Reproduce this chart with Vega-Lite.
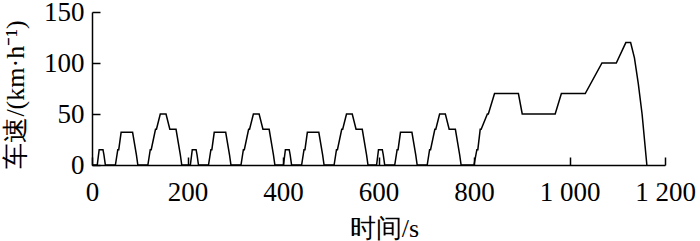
{
  "$schema": "https://vega.github.io/schema/vega-lite/v6.json",
  "width": 573,
  "height": 153,
  "autosize": {"type": "none"},
  "padding": {"left": 92, "top": 12, "right": 35, "bottom": 76},
  "background": "white",
  "config": {
    "view": {"stroke": null},
    "font": "'Liberation Serif', 'Times New Roman', serif",
    "axis": {
      "grid": false,
      "domainColor": "black",
      "domainWidth": 1.5,
      "tickColor": "black",
      "tickWidth": 1.5,
      "labelColor": "black",
      "titleColor": "black",
      "labelFont": "'Liberation Serif', 'Times New Roman', serif",
      "titleFont": "'Liberation Serif', 'Times New Roman', serif",
      "labelFontSize": 27,
      "titleFontSize": 26,
      "titleFontWeight": "normal",
      "labelFlush": false,
      "labelOverlap": false
    }
  },
  "data": {
    "values": [
      {"t": 0, "v": 0}, {"t": 11, "v": 0}, {"t": 15, "v": 15}, {"t": 23, "v": 15}, {"t": 25, "v": 10}, {"t": 28, "v": 0},
      {"t": 49, "v": 0}, {"t": 54, "v": 15}, {"t": 56, "v": 15}, {"t": 61, "v": 32}, {"t": 85, "v": 32}, {"t": 93, "v": 10}, {"t": 96, "v": 0},
      {"t": 117, "v": 0}, {"t": 122, "v": 15}, {"t": 124, "v": 15}, {"t": 133, "v": 35}, {"t": 135, "v": 35}, {"t": 143, "v": 50}, {"t": 155, "v": 50},
      {"t": 163, "v": 35}, {"t": 176, "v": 35}, {"t": 185, "v": 10}, {"t": 188, "v": 0}, {"t": 195, "v": 0},
      {"t": 206, "v": 0}, {"t": 210, "v": 15}, {"t": 218, "v": 15}, {"t": 220, "v": 10}, {"t": 223, "v": 0},
      {"t": 244, "v": 0}, {"t": 249, "v": 15}, {"t": 251, "v": 15}, {"t": 256, "v": 32}, {"t": 280, "v": 32}, {"t": 288, "v": 10}, {"t": 291, "v": 0},
      {"t": 312, "v": 0}, {"t": 317, "v": 15}, {"t": 319, "v": 15}, {"t": 328, "v": 35}, {"t": 330, "v": 35}, {"t": 338, "v": 50}, {"t": 350, "v": 50},
      {"t": 358, "v": 35}, {"t": 371, "v": 35}, {"t": 380, "v": 10}, {"t": 383, "v": 0}, {"t": 390, "v": 0},
      {"t": 401, "v": 0}, {"t": 405, "v": 15}, {"t": 413, "v": 15}, {"t": 415, "v": 10}, {"t": 418, "v": 0},
      {"t": 439, "v": 0}, {"t": 444, "v": 15}, {"t": 446, "v": 15}, {"t": 451, "v": 32}, {"t": 475, "v": 32}, {"t": 483, "v": 10}, {"t": 486, "v": 0},
      {"t": 507, "v": 0}, {"t": 512, "v": 15}, {"t": 514, "v": 15}, {"t": 523, "v": 35}, {"t": 525, "v": 35}, {"t": 533, "v": 50}, {"t": 545, "v": 50},
      {"t": 553, "v": 35}, {"t": 566, "v": 35}, {"t": 575, "v": 10}, {"t": 578, "v": 0}, {"t": 585, "v": 0},
      {"t": 596, "v": 0}, {"t": 600, "v": 15}, {"t": 608, "v": 15}, {"t": 610, "v": 10}, {"t": 613, "v": 0},
      {"t": 634, "v": 0}, {"t": 639, "v": 15}, {"t": 641, "v": 15}, {"t": 646, "v": 32}, {"t": 670, "v": 32}, {"t": 678, "v": 10}, {"t": 681, "v": 0},
      {"t": 702, "v": 0}, {"t": 707, "v": 15}, {"t": 709, "v": 15}, {"t": 718, "v": 35}, {"t": 720, "v": 35}, {"t": 728, "v": 50}, {"t": 740, "v": 50},
      {"t": 748, "v": 35}, {"t": 761, "v": 35}, {"t": 770, "v": 10}, {"t": 773, "v": 0}, {"t": 780, "v": 0},
      {"t": 800, "v": 0}, {"t": 806, "v": 15}, {"t": 808, "v": 15}, {"t": 813, "v": 35}, {"t": 815, "v": 35}, {"t": 828, "v": 50}, {"t": 830, "v": 50},
      {"t": 843, "v": 70}, {"t": 893, "v": 70}, {"t": 901, "v": 50}, {"t": 970, "v": 50}, {"t": 983, "v": 70}, {"t": 1033, "v": 70},
      {"t": 1068, "v": 100}, {"t": 1098, "v": 100}, {"t": 1118, "v": 120}, {"t": 1128, "v": 120}, {"t": 1136, "v": 105}, {"t": 1144, "v": 80},
      {"t": 1152, "v": 50}, {"t": 1162, "v": 0}
    ]
  },
  "mark": {"type": "line", "color": "black", "strokeWidth": 1.5, "interpolate": "linear"},
  "encoding": {
    "x": {
      "field": "t", "type": "quantitative",
      "scale": {"domain": [0, 1200], "nice": false},
      "axis": {
        "values": [0, 200, 400, 600, 800, 1000, 1200],
        "tickSize": -8,
        "labelPadding": 22,
        "labelExpr": "replace(format(datum.value, ','), ',', ' ')",
        "title": "时间/s",
        "titleX": 292,
        "titleY": 71,
        "titleAlign": "center",
        "titleBaseline": "alphabetic"
      }
    },
    "y": {
      "field": "v", "type": "quantitative",
      "scale": {"domain": [0, 150], "nice": false},
      "axis": {
        "values": [0, 50, 100, 150],
        "tickSize": -8,
        "labelPadding": 16,
        "title": "车速/(km·h⁻¹)",
        "titleX": -77,
        "titleY": 82,
        "titleAlign": "center",
        "titleBaseline": "middle",
        "titleAngle": -90
      }
    }
  }
}
